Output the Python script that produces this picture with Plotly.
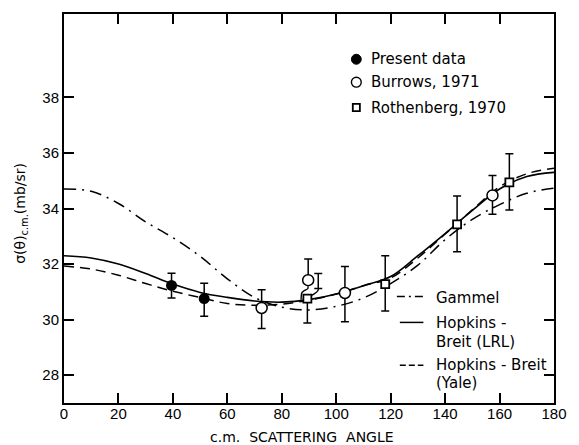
import plotly.graph_objects as go

# ---------------- data ----------------
present_x = [39.5, 51.5]
present_y = [31.23, 30.76]
present_err_up = [0.44, 0.55]
present_err_dn = [0.45, 0.64]

burrows_x = [72.6, 89.7, 103.2, 157.4]
burrows_y = [30.42, 31.42, 30.96, 34.47]
burrows_err_up = [0.66, 0.76, 0.95, 0.72]
burrows_err_dn = [0.74, 0.0, 1.04, 0.68]

roth_x = [89.4, 118.0, 144.4, 163.6]
roth_y = [30.76, 31.28, 33.43, 34.94]
roth_err_up = [0.0, 1.02, 1.02, 1.03]
roth_err_dn = [0.88, 0.97, 0.99, 0.99]

# offset upper error bar of the 89 deg Rothenberg point and drawn connectors
roth_off_x = [93.4]
roth_off_y = [31.12]
roth_off_up = [0.54]
conn1_x = [89.6, 89.6, 88.2, 87.4, 87.1]
conn1_y = [31.2, 31.12, 31.04, 30.97, 30.72]
conn2_x = [93.4, 93.3, 91.8, 90.6]
conn2_y = [31.12, 31.05, 30.92, 30.86]

theta = [0, 10, 20, 30, 40, 50, 60, 70, 80, 90, 100, 110, 120, 130, 140, 150, 160, 170, 180]
lrl = [32.30, 32.22, 32.00, 31.66, 31.28, 30.98, 30.80, 30.67, 30.63, 30.72, 30.92, 31.22, 31.55,
       32.30, 33.10, 33.93, 34.70, 35.15, 35.30]
yale = [31.93, 31.82, 31.60, 31.30, 31.02, 30.80, 30.58, 30.52, 30.56, 30.70, 30.92, 31.22, 31.50,
        32.22, 33.08, 33.95, 34.78, 35.25, 35.45]
gammel = [34.70, 34.62, 34.18, 33.52, 32.95, 32.28, 31.47, 30.80, 30.45, 30.35, 30.48, 30.78, 31.30,
          31.96, 32.88, 33.61, 34.14, 34.55, 34.73]

x_ticks = list(range(0, 181, 20))
y_ticks = [28, 30, 32, 34, 36, 38]

TICKFONT = "Liberation Sans"
FONT = "DejaVu Sans"

# ---------------- layout geometry (px) ----------------
W, H = 579, 445
L, R, T, B = 64, 16, 12, 42
PW, PH = W - L - R, H - T - B


def px(xp):
    return (xp - L) / PW


def py(yp):
    return (H - B - yp) / PH


fig = go.Figure()

fig.add_trace(go.Scatter(x=theta, y=gammel, mode="lines", line=dict(color="black", width=1.5, dash="12px,6px,2px,6px", shape="spline"), showlegend=False))
fig.add_trace(go.Scatter(x=theta, y=lrl, mode="lines", line=dict(color="black", width=1.6, shape="spline"), showlegend=False))
fig.add_trace(go.Scatter(x=theta, y=yale, mode="lines", line=dict(color="black", width=1.5, dash="10px,6px", shape="spline"), showlegend=False))

for cx, cy in [(conn1_x, conn1_y), (conn2_x, conn2_y)]:
    fig.add_trace(go.Scatter(x=cx, y=cy, mode="lines", line=dict(color="black", width=1.4, shape="spline"), showlegend=False))

fig.add_trace(go.Scatter(x=roth_off_x, y=roth_off_y, mode="markers", marker=dict(size=1, color="rgba(0,0,0,0)"),
                         error_y=dict(type="data", symmetric=False, array=roth_off_up, arrayminus=[0],
                                      color="black", thickness=1.5, width=4), showlegend=False))

fig.add_trace(go.Scatter(x=present_x, y=present_y, mode="markers",
                         marker=dict(symbol="circle", size=11, color="black"),
                         error_y=dict(type="data", symmetric=False, array=present_err_up, arrayminus=present_err_dn,
                                      color="black", thickness=1.5, width=4), showlegend=False))
fig.add_trace(go.Scatter(x=burrows_x, y=burrows_y, mode="markers",
                         marker=dict(symbol="circle", size=11, color="white", line=dict(color="black", width=1.5)),
                         error_y=dict(type="data", symmetric=False, array=burrows_err_up, arrayminus=burrows_err_dn,
                                      color="black", thickness=1.5, width=4), showlegend=False))
fig.add_trace(go.Scatter(x=roth_x, y=roth_y, mode="markers",
                         marker=dict(symbol="square", size=8, color="white", line=dict(color="black", width=1.8)),
                         error_y=dict(type="data", symmetric=False, array=roth_err_up, arrayminus=roth_err_dn,
                                      color="black", thickness=1.5, width=4), showlegend=False))

axis_common = dict(showline=True, linecolor="black", linewidth=2, mirror="ticks", ticks="inside",
                   tickcolor="black", tickwidth=1.8, ticklen=10, showgrid=False, zeroline=False,
                   tickfont=dict(family=TICKFONT, size=15, color="black"))

fig.update_layout(
    width=W, height=H, autosize=False,
    margin=dict(l=L, r=R, t=T, b=B),
    paper_bgcolor="white", plot_bgcolor="white",
    xaxis=dict(range=[0, 180], tickvals=x_ticks, ticktext=[str(v) for v in x_ticks],
               ticklabelstandoff=-4, **axis_common),
    yaxis=dict(range=[27, 41], tickvals=y_ticks, ticktext=[str(v) for v in y_ticks], **axis_common),
    showlegend=False,
)

ann = []
ann.append(dict(text="c.m.  SCATTERING  ANGLE", x=px(306), y=py(437), xref="paper", yref="paper",
                xanchor="center", yanchor="middle",
                showarrow=False, font=dict(family=FONT, size=14, color="black")))
ann.append(dict(text="σ(θ)<sub>c.m.</sub>(mb/sr)", x=px(20), y=py(212), xref="paper", yref="paper",
                xanchor="center", yanchor="middle",
                textangle=-90, showarrow=False, font=dict(family=FONT, size=14, color="black")))

legend_pts = [("Present data", 57.5), ("Burrows, 1971", 80.5), ("Rothenberg, 1970", 106)]
for txt, yy in legend_pts:
    ann.append(dict(text=txt, x=px(375), y=py(yy), xref="paper", yref="paper", xanchor="left", yanchor="middle",
                    showarrow=False, font=dict(family=FONT, size=15, color="black")))

line_texts = [("Gammel", 297), ("Hopkins -", 323), ("Breit (LRL)", 341.7), ("Hopkins - Breit", 365), ("(Yale)", 383.3)]
for txt, yy in line_texts:
    ann.append(dict(text=txt, x=px(441), y=py(yy), xref="paper", yref="paper", xanchor="left", yanchor="middle",
                    showarrow=False, font=dict(family=FONT, size=15, color="black")))
fig.update_layout(annotations=ann)

shapes = []
cx0 = 361.7
r = 5
shapes.append(dict(type="circle", xref="paper", yref="paper", x0=px(cx0 - r), x1=px(cx0 + r),
                   y0=py(57.5 + r), y1=py(57.5 - r), fillcolor="black", line=dict(color="black", width=1)))
shapes.append(dict(type="circle", xref="paper", yref="paper", x0=px(cx0 - r), x1=px(cx0 + r),
                   y0=py(80.5 + r), y1=py(80.5 - r), fillcolor="white", line=dict(color="black", width=1.4)))
s = 3.6
shapes.append(dict(type="rect", xref="paper", yref="paper", x0=px(cx0 - s), x1=px(cx0 + s),
                   y0=py(106 + s), y1=py(106 - s), fillcolor="white", line=dict(color="black", width=1.8)))
shapes.append(dict(type="line", xref="paper", yref="paper", x0=px(403), x1=px(430), y0=py(296), y1=py(296),
                   line=dict(color="black", width=1.5, dash="8px,4px,2px,4px")))
shapes.append(dict(type="line", xref="paper", yref="paper", x0=px(406), x1=px(430), y0=py(322), y1=py(322),
                   line=dict(color="black", width=1.5)))
shapes.append(dict(type="line", xref="paper", yref="paper", x0=px(406), x1=px(430), y0=py(365), y1=py(365),
                   line=dict(color="black", width=1.5, dash="6px,3px")))
fig.update_layout(shapes=shapes)

fig.write_html("out.html",
               config={"responsive": False, "displayModeBar": False},
               post_script="document.body.style.margin='0';document.body.style.overflow='hidden';")
